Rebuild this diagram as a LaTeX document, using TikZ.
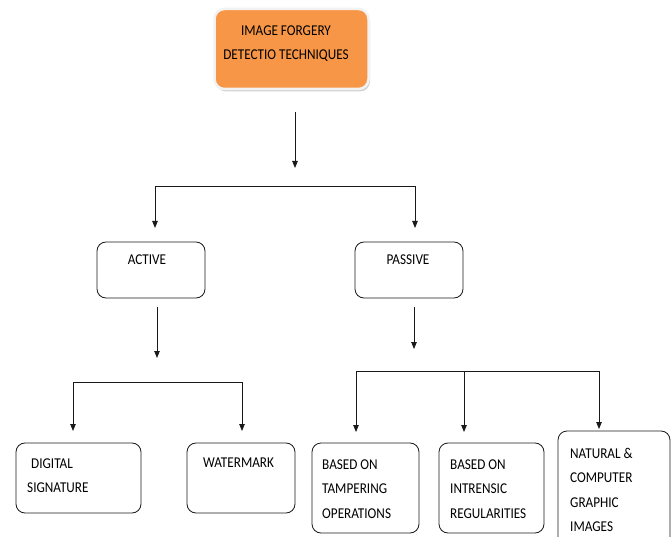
\documentclass[tikz,border=0pt]{standalone}
\usepackage{fontspec}
\newfontfamily\diagfont[FakeStretch=0.88]{Carlito}
\usetikzlibrary{arrows.meta,shadows}
\definecolor{forgeorange}{RGB}{247,150,70}
\definecolor{lineblack}{RGB}{25,25,25}

\begin{document}
\begin{tikzpicture}[x=1pt, y=-1pt,
    box/.style={rectangle, draw=lineblack, line width=0.8pt, rounded corners=9pt},
    topbox/.style={rectangle, fill=forgeorange, draw=white!90!gray, line width=2.5pt, rounded corners=10pt,
        drop shadow={shadow xshift=1.5pt, shadow yshift=-2.5pt, fill=gray!70, opacity=0.5}},
    lbl/.style={inner sep=0pt, font=\diagfont\fontsize{15}{24.5}\selectfont, text=black},
    arrow/.style={-{Triangle[length=7pt,width=5.5pt]}, line width=0.8pt, lineblack}
  ]
  \useasboundingbox (0,0) rectangle (672,537);

  % boxes
  \node[topbox, minimum width=154pt, minimum height=80pt] (ifdt) at (291.5,49) {};
  \node[box, minimum width=108pt, minimum height=56pt] (active) at (151,270) {};
  \node[box, minimum width=108pt, minimum height=56pt] (passive) at (409,270) {};
  \node[box, minimum width=125pt, minimum height=70pt] (digital) at (78.5,478) {};
  \node[box, minimum width=108pt, minimum height=70pt] (watermark) at (241,478) {};
  \node[box, minimum width=107pt, minimum height=90pt] (tamper) at (365.5,488) {};
  \node[box, minimum width=105pt, minimum height=90pt] (intrinsic) at (491.5,488) {};
  \node[box, minimum width=112pt, minimum height=119pt] (natural) at (614,490.5) {};

  % texts
  \node[lbl, align=center] (ifdttxt) at (286,43.5) {IMAGE FORGERY\\DETECTIO TECHNIQUES};
  \node[lbl] (activetxt) at (147,260) {ACTIVE};
  \node[lbl] (passivetxt) at (408,260) {PASSIVE};
  \node[lbl, align=left, anchor=west] (digitaltxt) at (27,475.5) {\hspace*{4pt}DIGITAL\\SIGNATURE};
  \node[lbl, anchor=west] (watermarktxt) at (203,463) {WATERMARK};
  \node[lbl, align=left, anchor=west] (tampertxt) at (322,489) {BASED ON\\TAMPERING\\OPERATIONS};
  \node[lbl, align=left, anchor=west] (intrinsictxt) at (450,489) {BASED ON\\INTRENSIC\\REGULARITIES};
  \node[lbl, align=left, anchor=west] (naturaltxt) at (570,490) {NATURAL \&\\COMPUTER\\GRAPHIC\\IMAGES};

  % connector points
  \coordinate (ifdtout) at (295,112);
  \coordinate (ifdtend) at (295,168);
  \coordinate (splitL) at (155,186);
  \coordinate (splitR) at (415,186);
  \coordinate (activein) at (155,228);
  \coordinate (passivein) at (415,228);
  \coordinate (activeout) at (157,307);
  \coordinate (activeend) at (157,358);
  \coordinate (actL) at (73,382);
  \coordinate (actR) at (242,382);
  \coordinate (digitalin) at (73,431);
  \coordinate (watermarkin) at (242,431);
  \coordinate (passiveout) at (414,307);
  \coordinate (passiveend) at (414,349);
  \coordinate (pasL) at (356,371);
  \coordinate (pasM) at (464,371);
  \coordinate (pasR) at (599,371);
  \coordinate (tamperin) at (356,432);
  \coordinate (intrinsicin) at (464,432);
  \coordinate (naturalin) at (599,429);

  % connectors
  \draw[arrow] (ifdtout) -- (ifdtend);
  \draw[arrow] (splitR) -- (splitL) -- (activein);
  \draw[arrow] (splitR) -- (passivein);
  \draw[arrow] (activeout) -- (activeend);
  \draw[arrow] (actR) -- (actL) -- (digitalin);
  \draw[arrow] (actR) -- (watermarkin);
  \draw[arrow] (passiveout) -- (passiveend);
  \draw[arrow] (pasM) -- (pasL) -- (tamperin);
  \draw[arrow] (pasM) -- (pasR) -- (naturalin);
  \draw[arrow] (pasM) -- (intrinsicin);
\end{tikzpicture}
\end{document}
